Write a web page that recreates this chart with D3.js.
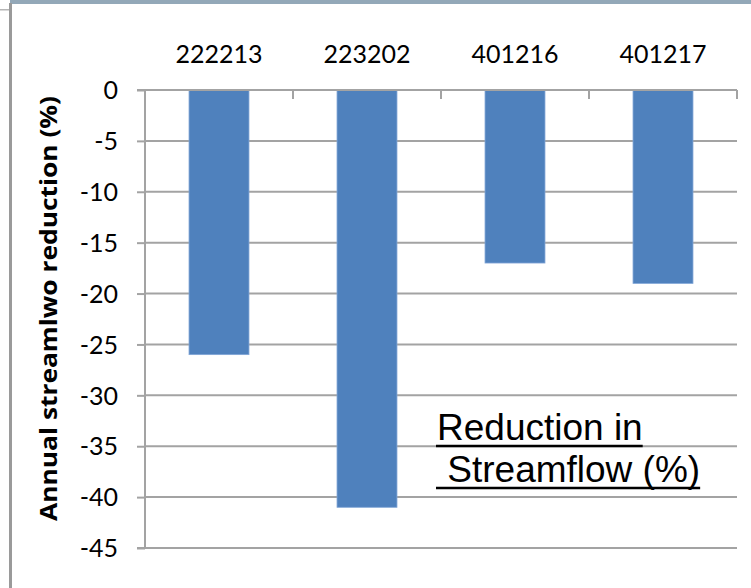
<!DOCTYPE html>
<html>
<head>
<meta charset="utf-8">
<script src="https://cdn.jsdelivr.net/npm/d3@7"></script>
<style>
  html, body { margin: 0; padding: 0; background: #fff; }
  #chart { width: 751px; height: 588px; }
</style>
</head>
<body>
<div id="chart"></div>
<script>
// Data
const stations = ["222213", "223202", "401216", "401217"];
const reduction = [-26, -41, -17, -19];
const yTicks = [0, -5, -10, -15, -20, -25, -30, -35, -40, -45];
const yTitle = "Annual streamlwo reduction (%)";
const noteLines = ["Reduction in", "\u00a0Streamflow (%)"];

const W = 751, H = 588;
const plot = {left: 145, right: 737, top: 90, bottom: 548};

const svg = d3.select("#chart")
    .append("svg")
    .attr("width", W)
    .attr("height", H);

// window-ish frame
svg.append("rect").attr("x", 10).attr("y", 0).attr("width", W - 10).attr("height", 4)
    .attr("fill", "#93a8b8");
svg.append("rect").attr("x", 0).attr("y", 9).attr("width", 10).attr("height", 1.5)
    .attr("fill", "#b5b5b5");
svg.append("rect").attr("x", 9).attr("y", 3).attr("width", 3).attr("height", H)
    .attr("fill", "#9a9a9a");

// Scales
const x = d3.scaleBand()
    .domain(stations)
    .range([plot.left, plot.right])
    .paddingInner(0.595)
    .paddingOuter(0.2975);

const y = d3.scaleLinear()
    .domain([-45, 0])
    .range([plot.bottom, plot.top]);

const gridColor = "#a3a3a3";

// Gridlines
svg.append("g")
    .selectAll("line")
    .data(yTicks.filter(d => d !== 0))
    .join("line")
    .attr("x1", plot.left)
    .attr("x2", plot.right)
    .attr("y1", d => y(d))
    .attr("y2", d => y(d))
    .attr("stroke", gridColor)
    .attr("stroke-width", 2);

// Bars
svg.selectAll(".bar")
    .data(stations)
    .join("rect")
    .attr("class", "bar")
    .attr("x", d => x(d))
    .attr("y", y(0))
    .attr("width", x.bandwidth())
    .attr("height", (d, i) => y(reduction[i]) - y(0))
    .attr("fill", "#4f81bd")
    .attr("stroke", "#7fa4d6")
    .attr("stroke-width", 0.8);

// Y axis
const yAxis = d3.axisLeft(y)
    .tickValues(yTicks)
    .tickSize(8)
    .tickPadding(19)
    .tickFormat(d => d === 0 ? "0" : "-" + Math.abs(d));

const gy = svg.append("g")
    .attr("transform", `translate(${plot.left},0)`)
    .call(yAxis);
gy.select(".domain").attr("stroke", gridColor).attr("stroke-width", 2)
    .attr("d", `M-8,${plot.top}H0V${plot.bottom}H-8`);
gy.selectAll(".tick line").attr("stroke", gridColor).attr("stroke-width", 2);
gy.selectAll(".tick text")
    .attr("font-family", "Lato, 'Open Sans', sans-serif")
    .attr("font-size", 25)
    .attr("fill", "#000")
    .attr("dy", "0.35em");

// Category axis along zero line, labels on top
const step = x.step();
const bounds = d3.range(stations.length + 1).map(i => plot.left + i * step);
const gx = svg.append("g");
gx.append("line")
    .attr("x1", plot.left).attr("x2", plot.right)
    .attr("y1", y(0)).attr("y2", y(0))
    .attr("stroke", gridColor).attr("stroke-width", 2);
gx.selectAll(".xt")
    .data(bounds.slice(1))
    .join("line")
    .attr("class", "xt")
    .attr("x1", d => d).attr("x2", d => d)
    .attr("y1", y(0)).attr("y2", y(0) + 9)
    .attr("stroke", gridColor).attr("stroke-width", 2);
gx.selectAll(".xl")
    .data(stations)
    .join("text")
    .attr("class", "xl")
    .attr("x", d => x(d) + x.bandwidth() / 2)
    .attr("y", 63)
    .attr("text-anchor", "middle")
    .attr("font-family", "Lato, 'Open Sans', sans-serif")
    .attr("font-size", 25)
    .attr("fill", "#000")
    .text(d => d);

// Y title
svg.append("text")
    .attr("transform", `translate(57,${(95 + 522) / 2}) rotate(-90)`)
    .attr("text-anchor", "middle")
    .attr("font-family", "'Open Sans', Lato, sans-serif")
    .attr("font-weight", "bold")
    .attr("font-size", 24)
    .attr("textLength", 425)
    .attr("lengthAdjust", "spacingAndGlyphs")
    .attr("fill", "#000")
    .text(yTitle);

// Annotation with underline
const note = svg.append("g");
const noteBase = [440, 482];
noteLines.forEach((t, i) => {
    const tx = note.append("text")
        .attr("x", 437)
        .attr("y", noteBase[i])
        .attr("font-family", "'Liberation Sans', Arial, sans-serif")
        .attr("font-size", 37)
        .attr("fill", "#000")
        .text(t);
    const len = tx.node().getComputedTextLength();
    note.append("line")
        .attr("x1", 436).attr("x2", 437 + len)
        .attr("y1", noteBase[i] + 6).attr("y2", noteBase[i] + 6)
        .attr("stroke", "#000").attr("stroke-width", 2.5);
});
</script>
</body>
</html>
